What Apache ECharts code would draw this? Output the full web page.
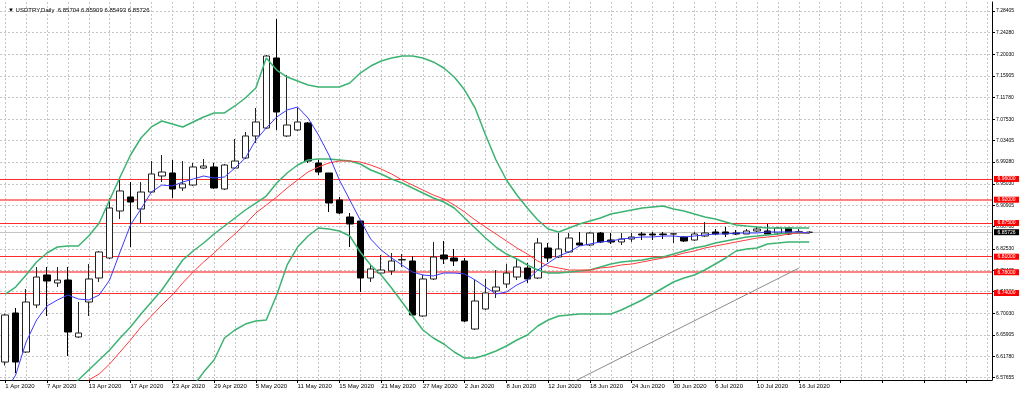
<!DOCTYPE html>
<html><head><meta charset="utf-8">
<script src="https://cdn.jsdelivr.net/npm/echarts@6/dist/echarts.min.js"></script>
<style>html,body{margin:0;padding:0;background:#fff}#c{width:1024px;height:393px}</style>
</head><body><div id="c"></div>
<script>
const symbolName = 'USDTRY,Daily';
const dates = ['1 Apr 2020','2 Apr 2020','3 Apr 2020','6 Apr 2020','7 Apr 2020','8 Apr 2020','9 Apr 2020','10 Apr 2020','13 Apr 2020','14 Apr 2020',
'15 Apr 2020','16 Apr 2020','17 Apr 2020','20 Apr 2020','21 Apr 2020','22 Apr 2020','23 Apr 2020','24 Apr 2020','27 Apr 2020','28 Apr 2020',
'29 Apr 2020','30 Apr 2020','1 May 2020','4 May 2020','5 May 2020','6 May 2020','7 May 2020','8 May 2020','11 May 2020','12 May 2020',
'13 May 2020','14 May 2020','15 May 2020','18 May 2020','19 May 2020','20 May 2020','21 May 2020','22 May 2020','25 May 2020','26 May 2020',
'27 May 2020','28 May 2020','29 May 2020','1 Jun 2020','2 Jun 2020','3 Jun 2020','4 Jun 2020','5 Jun 2020','8 Jun 2020','9 Jun 2020',
'10 Jun 2020','11 Jun 2020','12 Jun 2020','15 Jun 2020','16 Jun 2020','17 Jun 2020','18 Jun 2020','19 Jun 2020','22 Jun 2020','23 Jun 2020',
'24 Jun 2020','25 Jun 2020','26 Jun 2020','29 Jun 2020','30 Jun 2020','1 Jul 2020','2 Jul 2020','3 Jul 2020','6 Jul 2020','7 Jul 2020',
'8 Jul 2020','9 Jul 2020','10 Jul 2020','13 Jul 2020','14 Jul 2020','15 Jul 2020','16 Jul 2020','17 Jul 2020'];
const emptySlots = 17; // chart shift space on the right

const open = [6.6068,6.7014,6.6261,6.7168,6.7747,6.7593,6.7650,6.6551,6.7226,6.7689,
6.8075,6.8982,6.9252,6.9020,6.9348,6.9657,6.9715,6.9426,6.9483,6.9811,
6.9831,6.9406,6.9811,7.0004,7.0429,7.0583,7.1934,7.0429,7.0545,7.0680,
6.9908,6.9715,6.9194,6.8866,6.8789,6.7689,6.7785,6.7824,6.8036,6.8017,
6.6956,6.7670,6.8133,6.8075,6.8017,6.6705,6.7091,6.7438,6.7573,6.7708,
6.7882,6.7689,6.8268,6.8094,6.8191,6.8364,6.8326,6.8557,6.8422,6.8384,
6.8441,6.8538,6.8538,6.8538,6.8538,6.8480,6.8422,6.8499,6.8577,6.8577,
6.8557,6.8538,6.8596,6.8596,6.8557,6.8654,6.8577,6.85704];
const close = [6.6975,6.6068,6.7226,6.7708,6.7631,6.7650,6.6647,6.6628,6.7670,6.8191,
6.9040,6.9368,6.9155,6.9348,6.9696,6.9734,6.9406,6.9503,6.9831,6.9850,
6.9426,6.9869,6.9946,7.0429,7.0699,7.1972,7.0892,7.0641,7.0699,6.9946,
6.9734,6.9136,6.8943,6.8731,6.7689,6.7863,6.7843,6.8017,6.8046,6.6975,
6.7670,6.8094,6.8056,6.8017,6.6859,6.7245,6.7400,6.7515,6.7785,6.7901,
6.7670,6.8364,6.8075,6.8249,6.8461,6.8326,6.8557,6.8384,6.8384,6.8441,
6.8480,6.8519,6.8519,6.8526,6.8542,6.8403,6.8538,6.8557,6.8538,6.8538,
6.8538,6.8596,6.8634,6.8538,6.8654,6.8538,6.8580,6.85726];
const low = [6.6000,6.5856,6.6242,6.7110,6.6956,6.7515,6.6184,6.6532,6.6956,6.7612,
6.8056,6.8827,6.8287,6.8750,6.9329,6.9541,6.9233,6.9368,6.9464,6.9792,
6.9406,6.9387,6.9792,6.9985,7.0294,7.0564,7.0545,7.0409,7.0525,6.9908,
6.9676,6.8962,6.8924,6.8287,6.7419,6.7612,6.7766,6.7747,6.7901,6.6956,
6.6937,6.7650,6.7959,6.7921,6.6840,6.6686,6.7072,6.7303,6.7496,6.7650,
6.7593,6.7670,6.7998,6.8075,6.8171,6.8307,6.8307,6.8364,6.8345,6.8326,
6.8384,6.8422,6.8422,6.8441,6.8364,6.8384,6.8403,6.8480,6.8519,6.8480,
6.8519,6.8538,6.8577,6.8538,6.8519,6.8519,6.8557,6.85493];
const high = [6.7000,6.7110,6.7477,6.7901,6.7901,6.7901,6.7901,6.7226,6.7959,6.8210,
6.9233,6.9580,6.9541,6.9541,6.9946,7.0062,6.9966,6.9946,6.9908,6.9985,
6.9908,6.9889,7.0371,7.0506,7.0969,7.1991,7.2686,7.1606,7.0969,7.0699,
6.9966,6.9715,6.9252,6.8943,6.8808,6.7959,6.8133,6.8171,6.8152,6.8113,
6.7747,6.8384,6.8403,6.8249,6.8075,6.7650,6.7670,6.7843,6.7959,6.8056,
6.7978,6.8461,6.8364,6.8557,6.8557,6.8577,6.8577,6.8577,6.8557,6.8557,
6.8557,6.8577,6.8577,6.8577,6.8557,6.8499,6.8577,6.8770,6.8634,6.8673,
6.8615,6.8634,6.8673,6.8731,6.8673,6.8654,6.8634,6.85909];

// fast moving average (blue)
const maFast = [6.5490,6.5817,6.6454,6.6879,6.7149,6.7265,6.7361,6.7284,6.7265,6.7361,
6.7651,6.8191,6.8712,6.9020,6.9348,6.9483,6.9464,6.9541,6.9599,6.9657,
6.9618,6.9638,6.9811,7.0004,7.0352,7.0583,7.0795,7.0931,7.0988,7.0776,
7.0448,7.0062,6.9580,6.9194,6.8808,6.8441,6.8229,6.8075,6.7940,6.7805,
6.7747,6.7728,6.7785,6.7785,6.7766,6.7651,6.7515,6.7380,6.7419,6.7554,
6.7651,6.7843,6.7978,6.8113,6.8191,6.8307,6.8345,6.8384,6.8403,6.8441,
6.8461,6.8480,6.8480,6.8499,6.8499,6.8480,6.8499,6.8519,6.8538,6.8538,
6.8557,6.8557,6.8557,6.8577,6.8577,6.8577,6.8577,6.8557];
// slow moving average (red)
const maSlow = [null,null,null,null,null,null,null,6.5490,6.5721,6.5837,
6.6030,6.6261,6.6493,6.6743,6.6956,6.7168,6.7361,6.7593,6.7805,6.7998,
6.8171,6.8364,6.8538,6.8731,6.8943,6.9097,6.9252,6.9426,6.9580,6.9734,
6.9831,6.9908,6.9946,6.9946,6.9927,6.9869,6.9792,6.9696,6.9580,6.9483,
6.9387,6.9290,6.9213,6.9097,6.8962,6.8808,6.8673,6.8538,6.8403,6.8268,
6.8152,6.8017,6.7921,6.7882,6.7843,6.7843,6.7843,6.7882,6.7901,6.7940,
6.7959,6.7998,6.8036,6.8075,6.8113,6.8171,6.8210,6.8268,6.8307,6.8345,
6.8384,6.8422,6.8461,6.8480,6.8499,6.8538,6.8557,6.8557];
// Bollinger bands (green)
const bbUpper = [6.7380,6.7515,6.7747,6.7998,6.8171,6.8287,6.8307,6.8307,6.8499,6.8750,
6.9194,6.9638,7.0062,7.0390,7.0603,7.0718,7.0660,7.0603,7.0699,7.0795,
7.0873,7.0873,7.1008,7.1162,7.1355,7.1934,7.1702,7.1567,7.1490,7.1413,
7.1374,7.1374,7.1374,7.1451,7.1644,7.1779,7.1876,7.1934,7.1972,7.1972,
7.1934,7.1857,7.1741,7.1567,7.1316,7.0969,7.0448,6.9966,6.9580,6.9290,
6.9040,6.8808,6.8634,6.8577,6.8654,6.8731,6.8789,6.8847,6.8924,6.8962,
6.9001,6.9040,6.9059,6.9078,6.9020,6.8982,6.8924,6.8866,6.8827,6.8769,
6.8712,6.8692,6.8673,6.8654,6.8654,6.8654,6.8654,6.8654];
const bbMiddle = [null,null,null,null,null,null,6.5490,6.5721,6.5914,6.6107,
6.6300,6.6531,6.6743,6.6994,6.7226,6.7457,6.7747,6.8036,6.8210,6.8364,
6.8538,6.8692,6.8847,6.9001,6.9136,6.9271,6.9522,6.9715,6.9869,6.9966,
6.9985,6.9985,6.9966,6.9946,6.9889,6.9773,6.9696,6.9599,6.9522,6.9426,
6.9329,6.9233,6.9155,6.9040,6.8847,6.8654,6.8461,6.8287,6.8152,6.8056,
6.7940,6.7843,6.7785,6.7785,6.7805,6.7824,6.7843,6.7901,6.7959,6.7998,
6.8017,6.8036,6.8075,6.8094,6.8152,6.8210,6.8268,6.8307,6.8364,6.8403,
6.8441,6.8480,6.8499,6.8519,6.8538,6.8557,6.8557,6.8557];
const bbLower = [null,null,null,null,null,null,null,null,null,null,
null,null,null,null,null,null,null,null,6.5604,6.5874,
6.6107,6.6531,6.6686,6.6801,6.6859,6.6879,6.7361,6.7940,6.8287,6.8499,
6.8654,6.8634,6.8596,6.8499,6.8191,6.7940,6.7747,6.7496,6.7226,6.6956,
6.6686,6.6531,6.6416,6.6261,6.6145,6.6145,6.6203,6.6280,6.6377,6.6493,
6.6589,6.6763,6.6879,6.6956,6.6975,6.6994,6.6994,6.6994,6.6994,6.7072,
6.7168,6.7265,6.7380,6.7496,6.7612,6.7689,6.7747,6.7843,6.7959,6.8075,
6.8210,6.8249,6.8268,6.8345,6.8364,6.8384,6.8384,6.8384];
// trend line end points (grey)
const trendStart = {index: 54, price: 6.5644};
const trendEnd = {index: 76, price: 6.7880};

const levels = [6.96, 6.92, 6.875, 6.81, 6.78, 6.74];
const boldLevels = [6.92, 6.78];
const bidPrice = 6.85726;
const yTicks = [7.28405,7.24280,7.20030,7.15905,7.11780,7.07530,7.03405,6.99280,6.95030,6.90905,
6.86780,6.82530,6.78405,6.74280,6.70030,6.65905,6.61780,6.57655];
const gridEvery = 2; // vertical grid line every 2 bars

const cats = dates.concat(new Array(emptySlots).fill(''));
const candles = dates.map((d, i) => [open[i], close[i], low[i], high[i]]);
const last = dates.length - 1;
const titleText = '\u25BC ' + symbolName + '  ' + [open[last], high[last], low[last], close[last]].map(v => v.toFixed(5)).join(' ');
const trendLine = dates.map((d, i) => i === trendStart.index ? trendStart.price : (i === trendEnd.index ? trendEnd.price : null));

const FONT = 'Liberation Sans';
const lvlLabel = (bg, v) => ({show: true, position: 'end', distance: 2, formatter: () => v.toFixed(5),
  backgroundColor: bg, color: '#fff', fontSize: 5, lineHeight: 5, padding: [0.5, 3.5], fontFamily: FONT});

const markData = levels.map(v => ({yAxis: v,
    lineStyle: boldLevels.includes(v) ? {color: '#ff5a5a', width: 1.6, type: 'solid'} : {color: '#ff2a2a', width: 1, type: 'solid'},
    label: lvlLabel('#ff0000', v)}))
  .concat([{yAxis: bidPrice, lineStyle: {color: '#c4c4c4', width: 1, type: 'solid'}, label: lvlLabel('#000000', bidPrice)}]);

const gridColor = '#c6c6c6';
const gridMarks = yTicks.map(v => ({yAxis: v}))
  .concat(cats.map((c, i) => i).filter(i => i % gridEvery === 0).map(i => ({xAxis: i})));

const lineS = (name, data, color, width, z) => ({name, type: 'line', data, symbol: 'none',
  lineStyle: {color, width}, z, animation: false, silent: true});

const chart = echarts.init(document.getElementById('c'), null, {renderer: 'canvas'});
chart.setOption({
  animation: false,
  backgroundColor: '#ffffff',
  textStyle: {fontFamily: FONT},
  title: {text: titleText, left: 3, top: 2, textStyle: {fontSize: 6, fontWeight: 'normal', color: '#000', fontFamily: FONT}},
  grid: {left: -3.24, right: 32, top: 2, bottom: 13},
  xAxis: {
    type: 'category', data: cats, boundaryGap: true,
    axisLine: {lineStyle: {color: '#000', width: 1}},
    axisTick: {show: true, interval: 3, alignWithLabel: true, length: 3, lineStyle: {color: '#000'}},
    axisLabel: {interval: 3, align: 'left', margin: 3, fontSize: 6, color: '#000', fontFamily: FONT},
    splitLine: {show: false}
  },
  yAxis: {
    type: 'value', position: 'right', min: 6.57211, max: 7.30141,
    axisLine: {show: true, lineStyle: {color: '#000'}},
    axisTick: {show: true, length: 3, customValues: yTicks, lineStyle: {color: '#000'}},
    axisLabel: {customValues: yTicks, formatter: v => v.toFixed(5), fontSize: 5, margin: 4, color: '#000', fontFamily: FONT},
    splitLine: {show: false}
  },
  series: [
    {name: 'grid', type: 'line', data: cats.map(() => null), symbol: 'none', z: 0, zlevel: 0, silent: true,
     markLine: {silent: true, z: 0, symbol: ['none', 'none'], animation: false, precision: 5, label: {show: false},
       lineStyle: {color: gridColor, type: [2, 2], width: 1}, data: gridMarks}},
    {type: 'candlestick', data: candles, barWidth: 7, z: 3, animation: false,
     itemStyle: {color: '#ffffff', color0: '#000000', borderColor: '#222222', borderColor0: '#000000', borderWidth: 1},
     markLine: {silent: true, z: 2, symbol: ['none', 'none'], animation: false, precision: 5, data: markData}},
    Object.assign(lineS('trend', trendLine, '#8c8c8c', 1, 2), {connectNulls: true}),
    lineS('bbUpper', bbUpper, '#3cb371', 1.5, 4),
    lineS('bbMiddle', bbMiddle, '#3cb371', 1.5, 4),
    lineS('bbLower', bbLower, '#3cb371', 1.5, 4),
    lineS('maSlow', maSlow, '#ff3b3b', 1, 5),
    lineS('maFast', maFast, '#3a3aff', 1, 6)
  ]
});
</script></body></html>
